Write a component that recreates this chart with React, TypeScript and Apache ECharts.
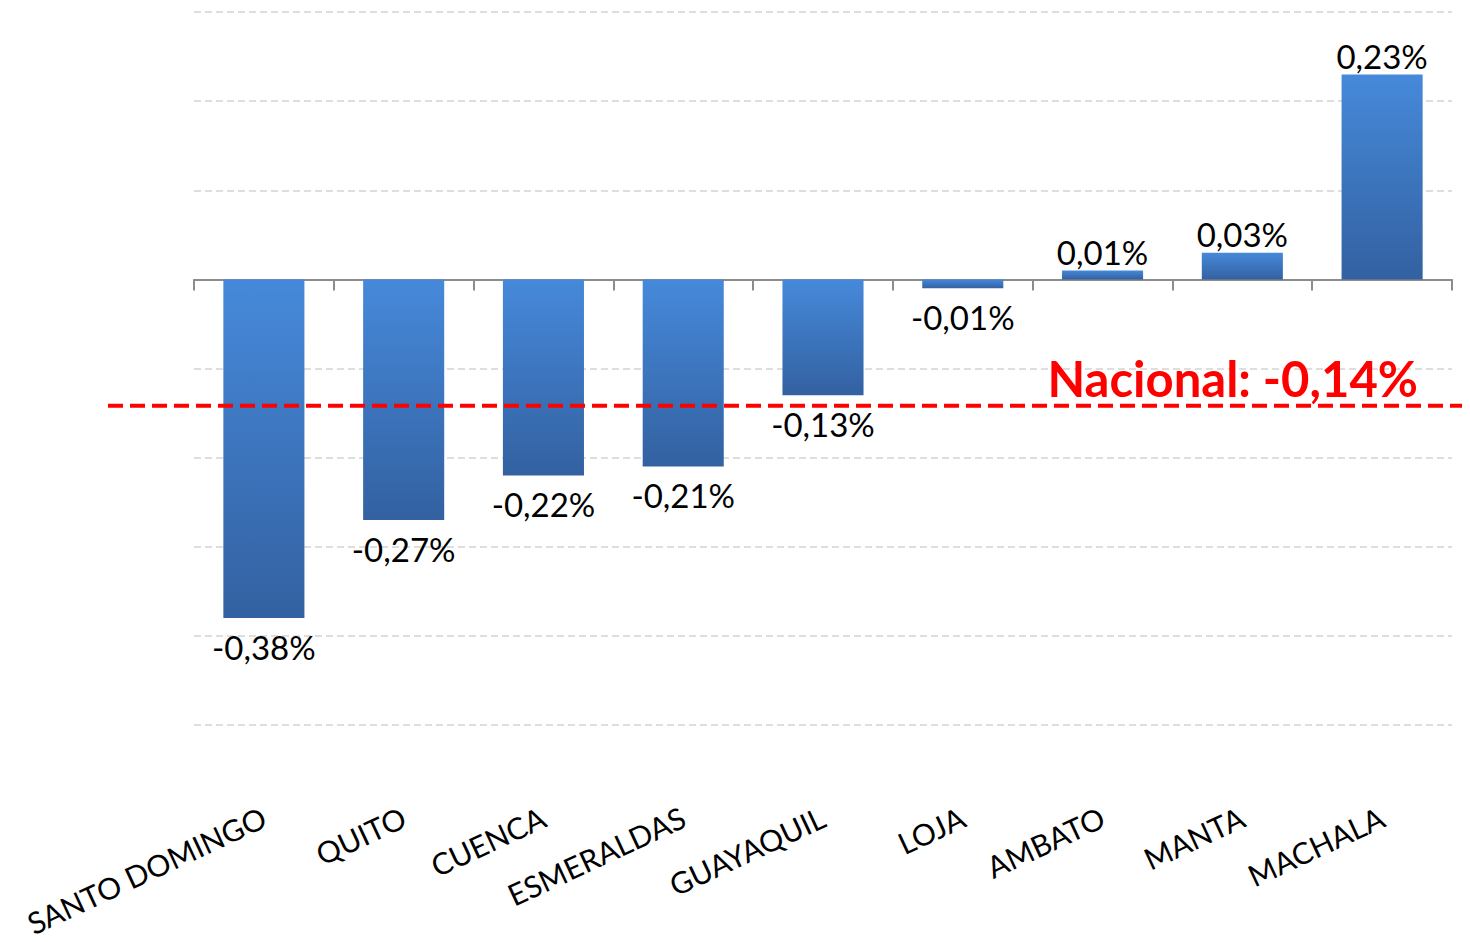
import React, { useEffect, useRef } from "react";
import * as echarts from "echarts";

const categories = [
  "SANTO DOMINGO",
  "QUITO",
  "CUENCA",
  "ESMERALDAS",
  "GUAYAQUIL",
  "LOJA",
  "AMBATO",
  "MANTA",
  "MACHALA",
];
const values = [-0.38, -0.27, -0.22, -0.21, -0.13, -0.01, 0.01, 0.03, 0.23];
const nationalValue = -0.14;
const nationalLabel = "Nacional: -0,14%";
const yMin = -0.5;
const yMax = 0.3;
const yInterval = 0.1;

const FONT = "Lato, 'Open Sans', sans-serif";

const fmt = (v: number) => v.toFixed(2).replace(".", ",") + "%";

export default function App() {
  const ref = useRef<HTMLDivElement>(null);

  useEffect(() => {
    if (!ref.current) return;
    const chart = echarts.init(ref.current, undefined, { renderer: "svg" });
    const gradient = new echarts.graphic.LinearGradient(0, 0, 0, 1, [
      { offset: 0, color: "#4689DA" },
      { offset: 1, color: "#3361A1" },
    ]);
    chart.setOption({
      animation: false,
      backgroundColor: "#ffffff",
      textStyle: { fontFamily: FONT },
      grid: {
        left: 194,
        right: 18,
        top: 12,
        bottom: 217,
        containLabel: false,
        outerBoundsMode: "none",
      },
      xAxis: [
        {
          type: "category",
          data: categories,
          position: "bottom",
          axisLine: { show: true, onZero: true, lineStyle: { color: "#8c8c8c", width: 2 } },
          axisTick: { show: true, length: 11, lineStyle: { color: "#8c8c8c", width: 2 } },
          axisLabel: { show: false },
          splitLine: { show: false },
        },
        {
          type: "category",
          data: categories,
          position: "bottom",
          axisLine: { show: false, onZero: false },
          axisTick: { show: false },
          axisLabel: {
            show: true,
            rotate: 25,
            margin: 90,
            fontSize: 30,
            color: "#000000",
            fontFamily: FONT,
            interval: 0,
          },
          splitLine: { show: false },
        },
      ],
      yAxis: {
        type: "value",
        min: yMin,
        max: yMax,
        interval: yInterval,
        axisLine: { show: false },
        axisTick: { show: false },
        axisLabel: { show: false },
        splitLine: {
          show: true,
          lineStyle: { color: "#d4d4d4", width: 1.5, type: [7, 4] },
        },
      },
      series: [
        {
          type: "bar",
          xAxisIndex: 0,
          barWidth: "58%",
          data: values.map((v) => ({
            value: v,
            label: {
              position: v >= 0 ? "top" : "bottom",
              distance: v >= 0 ? 2 : 12,
            },
          })),
          itemStyle: { color: gradient },
          label: {
            show: true,
            fontSize: 33,
            color: "#000000",
            fontFamily: FONT,
            formatter: (p: any) => fmt(p.value),
          },
        },
      ],
    });

    const yPx = chart.convertToPixel({ yAxisIndex: 0 }, nationalValue) as number;
    chart.setOption({
      graphic: [
        {
          type: "line",
          shape: { x1: 108, y1: yPx + 1.5, x2: 1470, y2: yPx + 1.5 },
          style: { stroke: "#ff0000", lineWidth: 4, lineDash: [15, 7] },
          z: 10,
        },
        {
          type: "text",
          x: 1418,
          y: yPx - 2,
          style: {
            text: nationalLabel,
            fill: "#ff0000",
            font: `bold 49px ${FONT}`,
            align: "right",
            verticalAlign: "bottom",
          },
          z: 10,
        },
      ],
    });

    return () => chart.dispose();
  }, []);

  return <div ref={ref} style={{ width: 1470, height: 942, margin: -8 }} />;
}
